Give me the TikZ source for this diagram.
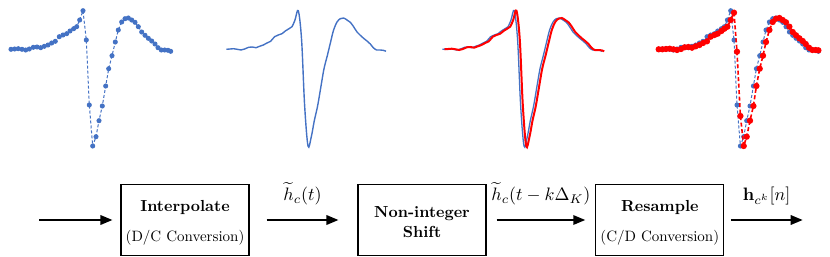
\RequirePackage{fix-cm}
\documentclass[tikz,border=0pt]{standalone}
\usepackage{graphicx}
\usetikzlibrary{arrows.meta}
\definecolor{wblue}{HTML}{4472C4}
\definecolor{wred}{HTML}{FF0000}
\def\wavedata{(11,49.3) (14.7,49) (18.3,48.7) (22,49.3) (25.7,50) (29.3,49) (33.3,47.3) (37,47) (40.7,47.7) (44.3,46.3) (48,45) (51.7,43) (55.3,41.3) (59.3,36.7) (63,35) (66.7,33.7) (70,31) (73.7,28.7) (76.7,26.7) (79.7,20) (83,10.7) (86.3,40) (89.3,105) (92.7,146) (96,136.7) (99,120.7) (102.3,106) (105.7,86) (108.7,68.7) (112,55.7) (115.3,42) (118.3,30) (121.7,22) (125,18.7) (128.3,18) (131.7,20) (135,22.3) (138.3,26.7) (141.7,32) (145,35.3) (148.3,38.3) (151.7,41) (155,44) (158,47.7) (161.3,50) (164.7,50) (168,50.3) (170.7,51.3)}
\def\wavedataR{(11,49.3) (14.7,49.3) (18.3,49) (22,48.7) (25.7,49.3) (29.3,50) (33.3,49) (37,47.3) (40.7,47) (44.3,47.7) (48,46.3) (51.7,45) (55.3,43) (59.3,41.3) (63,36.7) (66.7,35) (70,33.7) (73.7,31) (76.7,28.7) (79.7,26.7) (83,20) (86.3,12.7) (89.3,51.7) (92.7,116) (96,146) (99,136.7) (102.3,120.7) (105.7,106) (108.7,86) (112,68.7) (115.3,55.7) (118.3,42) (121.7,30) (125,22) (128.3,18.7) (131.7,18) (135,20) (138.3,22.3) (141.7,26.7) (145,32) (148.3,35.3) (151.7,38.3) (155,41) (158,44) (161.3,47.7) (164.7,50) (168,50) (170.7,50.3)}
\newcommand\wavedraw[3]{\edef\wdtmp{\noexpand\draw[#1] plot[#2] coordinates {#3};}\wdtmp}
\newcommand\boldtxt[1]{\scalebox{1.6}{\bfseries #1}}
\newcommand\subtxt[1]{\scalebox{1.5}{#1}}
\newcommand\lbltxt[1]{\scalebox{1.8}{#1}}
\tikzset{
  blk/.style={draw, line width=1.1pt, minimum width=128pt, minimum height=71pt, align=center, inner sep=0pt, font=\fontsize{10}{20}\selectfont},
  arr/.style={line width=1.8pt, -{Triangle[length=12pt,width=9.5pt]}},
  lbl/.style={font=\fontsize{10}{12}\selectfont, inner sep=1.5pt, above=12.5pt},
}
\begin{document}
\begin{tikzpicture}[x=1pt,y=-1pt]
\useasboundingbox (0,0) rectangle (830,257);
% panel 1: samples
\wavedraw{wblue, line width=1pt, dash pattern=on 3pt off 2pt}{mark=*, mark size=2pt, mark options={solid, fill=wblue, draw=wblue}}{\wavedata}
% panel 2: interpolated
\begin{scope}[xshift=215.3pt]
\wavedraw{wblue, line width=1.4pt}{smooth, tension=0.55}{\wavedata}
\end{scope}
% panel 3: shifted
\begin{scope}[xshift=431.3pt]
\wavedraw{wblue, line width=1.3pt}{smooth, tension=0.55}{\wavedata}
\end{scope}
\begin{scope}[xshift=433.5pt]
\wavedraw{wred, line width=2pt}{smooth, tension=0.55}{\wavedata}
\end{scope}
% panel 4: resampled
\begin{scope}[xshift=647.7pt]
\wavedraw{wblue, line width=1pt, dash pattern=on 3pt off 2pt}{mark=*, mark size=2pt, mark options={solid, fill=wblue, draw=wblue}}{\wavedata}
\wavedraw{wred, line width=1.6pt, dash pattern=on 4pt off 2.5pt}{mark=*, mark size=2.3pt, mark options={solid, fill=wred, draw=wred}}{\wavedataR}
\end{scope}
% blocks
\node[blk] (b1) at (185,220) {\rule{0pt}{17pt}\boldtxt{Interpolate}\\[10pt]\subtxt{(D/C Conversion)}};
\node[blk] (b2) at (422,220) {\rule{0pt}{15pt}\boldtxt{Non-integer}\\\boldtxt{Shift}};
\node[blk] (b3) at (659.8,220) {\rule{0pt}{17pt}\boldtxt{Resample}\\[10pt]\subtxt{(C/D Conversion)}};
\coordinate (in) at (39.3,220);
\coordinate (out) at (802.7,220);
\draw[arr] (in) -- ([xshift=-8pt]b1.west);
\draw[arr] ([xshift=17pt]b1.east) -- node[lbl] (l1) {\lbltxt{$\widetilde{h}_c(t)$}} ([xshift=-19pt]b2.west);
\draw[arr] ([xshift=10pt]b2.east) -- node[lbl] (l2) {\lbltxt{$\widetilde{h}_c(t-k\Delta_K)$}} ([xshift=-10pt]b3.west);
\draw[arr] ([xshift=6.4pt]b3.east) -- node[lbl] (l3) {\lbltxt{$\mathbf{h}_{c^k}[n]$}} (out);
\end{tikzpicture}
\end{document}
